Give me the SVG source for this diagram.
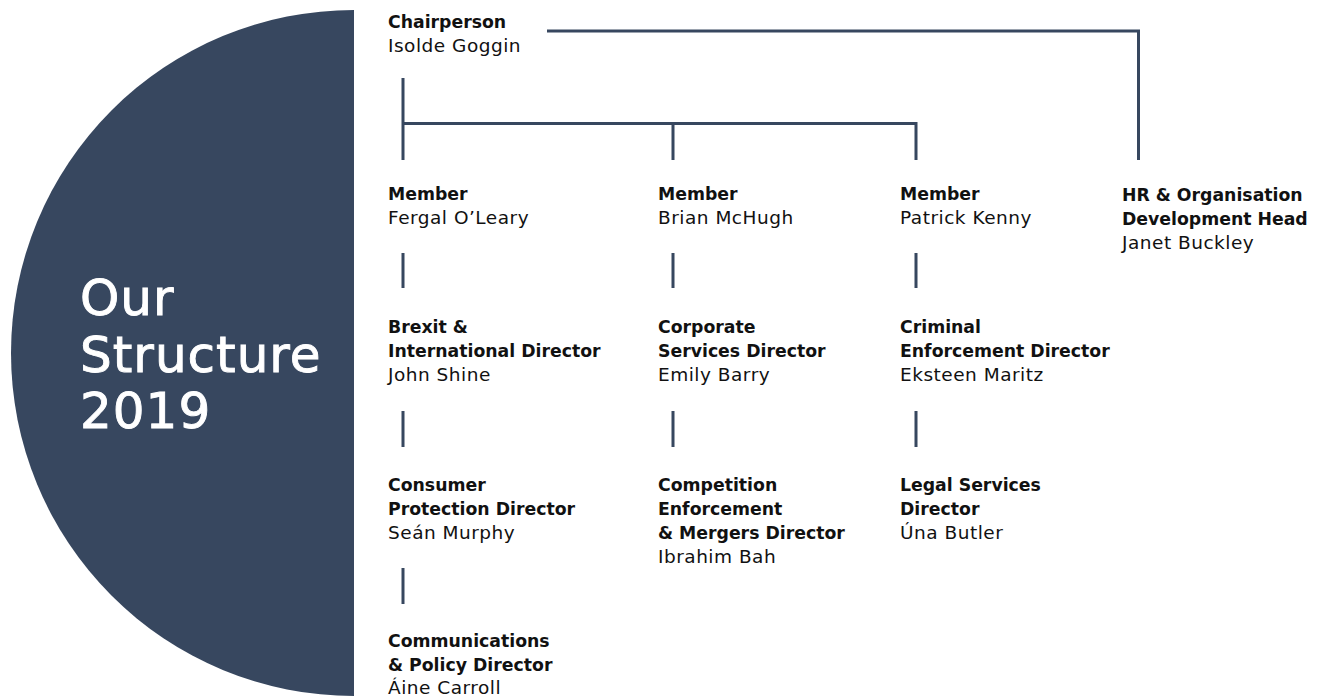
<svg xmlns="http://www.w3.org/2000/svg" width="1324" height="696" viewBox="0 0 1324 696">
<style>
.t{font-family:"DejaVu Sans","Liberation Sans",sans-serif;font-weight:bold;font-size:17.3px;fill:#111}
.n{font-family:"DejaVu Sans","Liberation Sans",sans-serif;font-size:18.5px;letter-spacing:0.5px;fill:#111}
.h{font-family:"DejaVu Sans","Liberation Sans",sans-serif;font-size:50px;letter-spacing:1px;fill:#fff;stroke:#fff;stroke-width:0.9px}
.c{stroke:#37475f;stroke-width:3;fill:none}
</style>
<rect width="1324" height="696" fill="#fff"/>
<g id="banner">
<path d="M354,10 A343,343 0 0 0 354,696 Z" fill="#37475f"/>
<text class="h" x="80" y="315">Our</text>
<text class="h" x="80" y="372">Structure</text>
<text class="h" x="80" y="428">2019</text>
</g>
<g id="connectors">
<path class="c" d="M547,31 H1138.5 V160"/>
<path class="c" d="M403,78 V160 M403,123.5 H916 V160 M673,123.5 V160"/>
<path class="c" d="M403,253 V288 M673,253 V288 M916,253 V288"/>
<path class="c" d="M403,411 V447 M673,411 V447 M916,411 V447"/>
<path class="c" d="M403,568 V604"/>
</g>
<g id="chairperson">
<text class="t" x="388" y="27.5">Chairperson</text>
<text class="n" x="388" y="51.5">Isolde Goggin</text>
</g>
<g id="member-fergal">
<text class="t" x="388" y="199.5">Member</text>
<text class="n" x="388" y="223.5">Fergal O’Leary</text>
</g>
<g id="member-brian">
<text class="t" x="658" y="199.5">Member</text>
<text class="n" x="658" y="223.5">Brian McHugh</text>
</g>
<g id="member-patrick">
<text class="t" x="900" y="199.5">Member</text>
<text class="n" x="900" y="223.5">Patrick Kenny</text>
</g>
<g id="hr-head">
<text class="t" x="1122" y="201">HR &amp; Organisation</text>
<text class="t" x="1122" y="225">Development Head</text>
<text class="n" x="1122" y="249">Janet Buckley</text>
</g>
<g id="brexit-director">
<text class="t" x="388" y="332.5">Brexit &amp;</text>
<text class="t" x="388" y="356.5">International Director</text>
<text class="n" x="388" y="380.5">John Shine</text>
</g>
<g id="corporate-director">
<text class="t" x="658" y="332.5">Corporate</text>
<text class="t" x="658" y="356.5">Services Director</text>
<text class="n" x="658" y="380.5">Emily Barry</text>
</g>
<g id="criminal-director">
<text class="t" x="900" y="332.5">Criminal</text>
<text class="t" x="900" y="356.5">Enforcement Director</text>
<text class="n" x="900" y="380.5">Eksteen Maritz</text>
</g>
<g id="consumer-director">
<text class="t" x="388" y="490.5">Consumer</text>
<text class="t" x="388" y="514.5">Protection Director</text>
<text class="n" x="388" y="538.5">Seán Murphy</text>
</g>
<g id="competition-director">
<text class="t" x="658" y="490.5">Competition</text>
<text class="t" x="658" y="514.5">Enforcement</text>
<text class="t" x="658" y="538.5">&amp; Mergers Director</text>
<text class="n" x="658" y="562.5">Ibrahim Bah</text>
</g>
<g id="legal-director">
<text class="t" x="900" y="490.5">Legal Services</text>
<text class="t" x="900" y="514.5">Director</text>
<text class="n" x="900" y="538.5">Úna Butler</text>
</g>
<g id="communications-director">
<text class="t" x="388" y="647">Communications</text>
<text class="t" x="388" y="671">&amp; Policy Director</text>
<text class="n" x="388" y="693.5">Áine Carroll</text>
</g>
</svg>
